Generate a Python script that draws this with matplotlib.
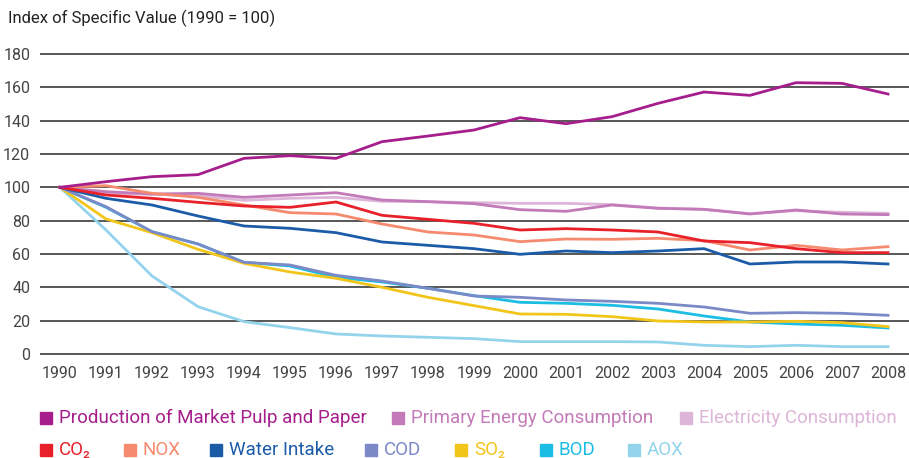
import matplotlib.pyplot as plt

# 1990 = 100 index values
years = list(range(1990, 2009))

pulp_paper = [100, 103.4, 106.4, 107.6, 117.4, 119, 117.4, 127.4, 130.8, 134.4,
              141.8, 138.2, 142.4, 150.4, 157.2, 155.2, 162.8, 162.4, 156]
primary_energy = [100, 97.4, 96, 96.4, 94, 95.4, 96.8, 92.4, 91.4, 90.2,
                  86.6, 85.6, 89.4, 87.4, 86.8, 84, 86.4, 84, 83.6]
electricity = [100, 96.5, 95.8, 95, 92.2, 93.4, 94, 91.6, 91.4, 90.8,
               90.4, 90.4, 89.6, 87.6, 86.8, 84.2, 86, 85, 84.4]
co2 = [100, 95.4, 93.4, 91, 88.8, 88, 91.2, 83.2, 80.8, 78.4,
       74.4, 75.2, 74.4, 73.2, 67.8, 66.8, 63.2, 60.8, 60.8]
nox = [100, 101, 96.4, 94, 89.4, 84.8, 84, 78, 73.2, 71.4,
       67.4, 69, 68.8, 69.4, 68, 62.4, 65.2, 62.4, 64.4]
water_intake = [100, 93.4, 89.4, 82.8, 76.8, 75.4, 72.8, 67.2, 65.2, 63.2,
                59.8, 61.8, 60.8, 61.8, 63.2, 54, 55.2, 55.2, 54]
cod = [100, 88.4, 73.4, 66, 55, 53.4, 47.2, 43.8, 39.4, 34.8,
       34, 32.4, 31.6, 30.4, 28.2, 24.4, 24.8, 24.4, 23.2]
so2 = [100, 81, 72.8, 62.8, 54.4, 49.2, 45.4, 40, 34, 29,
       24, 23.8, 22.4, 19.8, 19.2, 19.2, 19.6, 18.8, 16.4]
bod = [100, 88, 73.4, 66, 55, 52.8, 46, 43.2, 39.4, 35,
       31, 30.4, 29.2, 27, 22.8, 19.2, 18, 17.2, 15.6]
aox = [100, 74.4, 46.8, 28.4, 19.4, 15.8, 12, 10.8, 10, 9.2,
       7.4, 7.4, 7.4, 7.2, 5.2, 4.4, 5.2, 4.4, 4.4]

c_pulp = '#A51E8C'
c_energy = '#C27AB8'
c_elec = '#DDB5D8'
c_co2 = '#E8202A'
c_nox = '#F58A6E'
c_water = '#1C5BA8'
c_cod = '#7B89C7'
c_so2 = '#F2C51B'
c_bod = '#1CBDE2'
c_aox = '#93D4EC'

plt.rcParams['font.family'] = ['Roboto', 'DejaVu Sans']

W, H = 909, 458
fig = plt.figure(figsize=(W / 100, H / 100), dpi=100)

# axes placed in pixels: x 40..909, y(182)=50.7 .. y(-2)=357.3
ax = fig.add_axes([40 / W, (H - 357.3) / H, (W - 40) / W, (357.3 - 50.7) / H])
ax.set_xlim(1990 - 20 / 46, 2008 + 21 / 46)
ax.set_ylim(-2, 182)

for v in range(0, 181, 20):
    ax.axhline(v, color='#4a4a4a', lw=1.3, zorder=1)

lw = 2.0
ax.plot(years, aox, color=c_aox, lw=lw, zorder=2)
ax.plot(years, bod, color=c_bod, lw=lw, zorder=2)
ax.plot(years, so2, color=c_so2, lw=lw, zorder=2)
ax.plot(years, cod, color=c_cod, lw=lw, zorder=2)
ax.plot(years, electricity, color=c_elec, lw=lw, zorder=2)
ax.plot(years, primary_energy, color=c_energy, lw=lw, zorder=2)
ax.plot(years, nox, color=c_nox, lw=lw, zorder=2)
ax.plot(years, water_intake, color=c_water, lw=lw, zorder=2)
ax.plot(years, co2, color=c_co2, lw=lw, zorder=2)
ax.plot(years, pulp_paper, color=c_pulp, lw=lw, zorder=3)

ax.set_xticks(years)
ax.set_xticklabels([str(y) for y in years])
ax.set_yticks(range(0, 181, 20))
ax.tick_params(length=0, labelsize=11.5, colors='#444444')
ax.tick_params(axis='y', pad=7)
ax.tick_params(axis='x', pad=6)
for s in ax.spines.values():
    s.set_visible(False)

fig.text(8 / W, 1 - 18 / H, 'Index of Specific Value (1990 = 100)',
         fontsize=12, color='#222222', va='center', ha='left')

# legend drawn by hand: coloured square + coloured label
legend_rows = [
    [(40, 'Production of Market Pulp and Paper', c_pulp),
     (392, 'Primary Energy Consumption', c_energy),
     (680, 'Electricity Consumption', c_elec)],
    [(40, 'CO₂', c_co2), (124, 'NOX', c_nox), (210, 'Water Intake', c_water),
     (365, 'COD', c_cod), (455, 'SO₂', c_so2), (540, 'BOD', c_bod),
     (628, 'AOX', c_aox)],
]
row_y = [418, 450]
for row, yc in zip(legend_rows, row_y):
    for x0, label, col in row:
        fig.patches.append(plt.Rectangle((x0 / W, 1 - (yc + 6) / H), 12 / W, 12 / H,
                                         transform=fig.transFigure, color=col))
        fig.text((x0 + 19) / W, 1 - yc / H, label, fontsize=13.5, color=col,
                 va='center', ha='left')

fig.savefig('out.png', dpi=100)
